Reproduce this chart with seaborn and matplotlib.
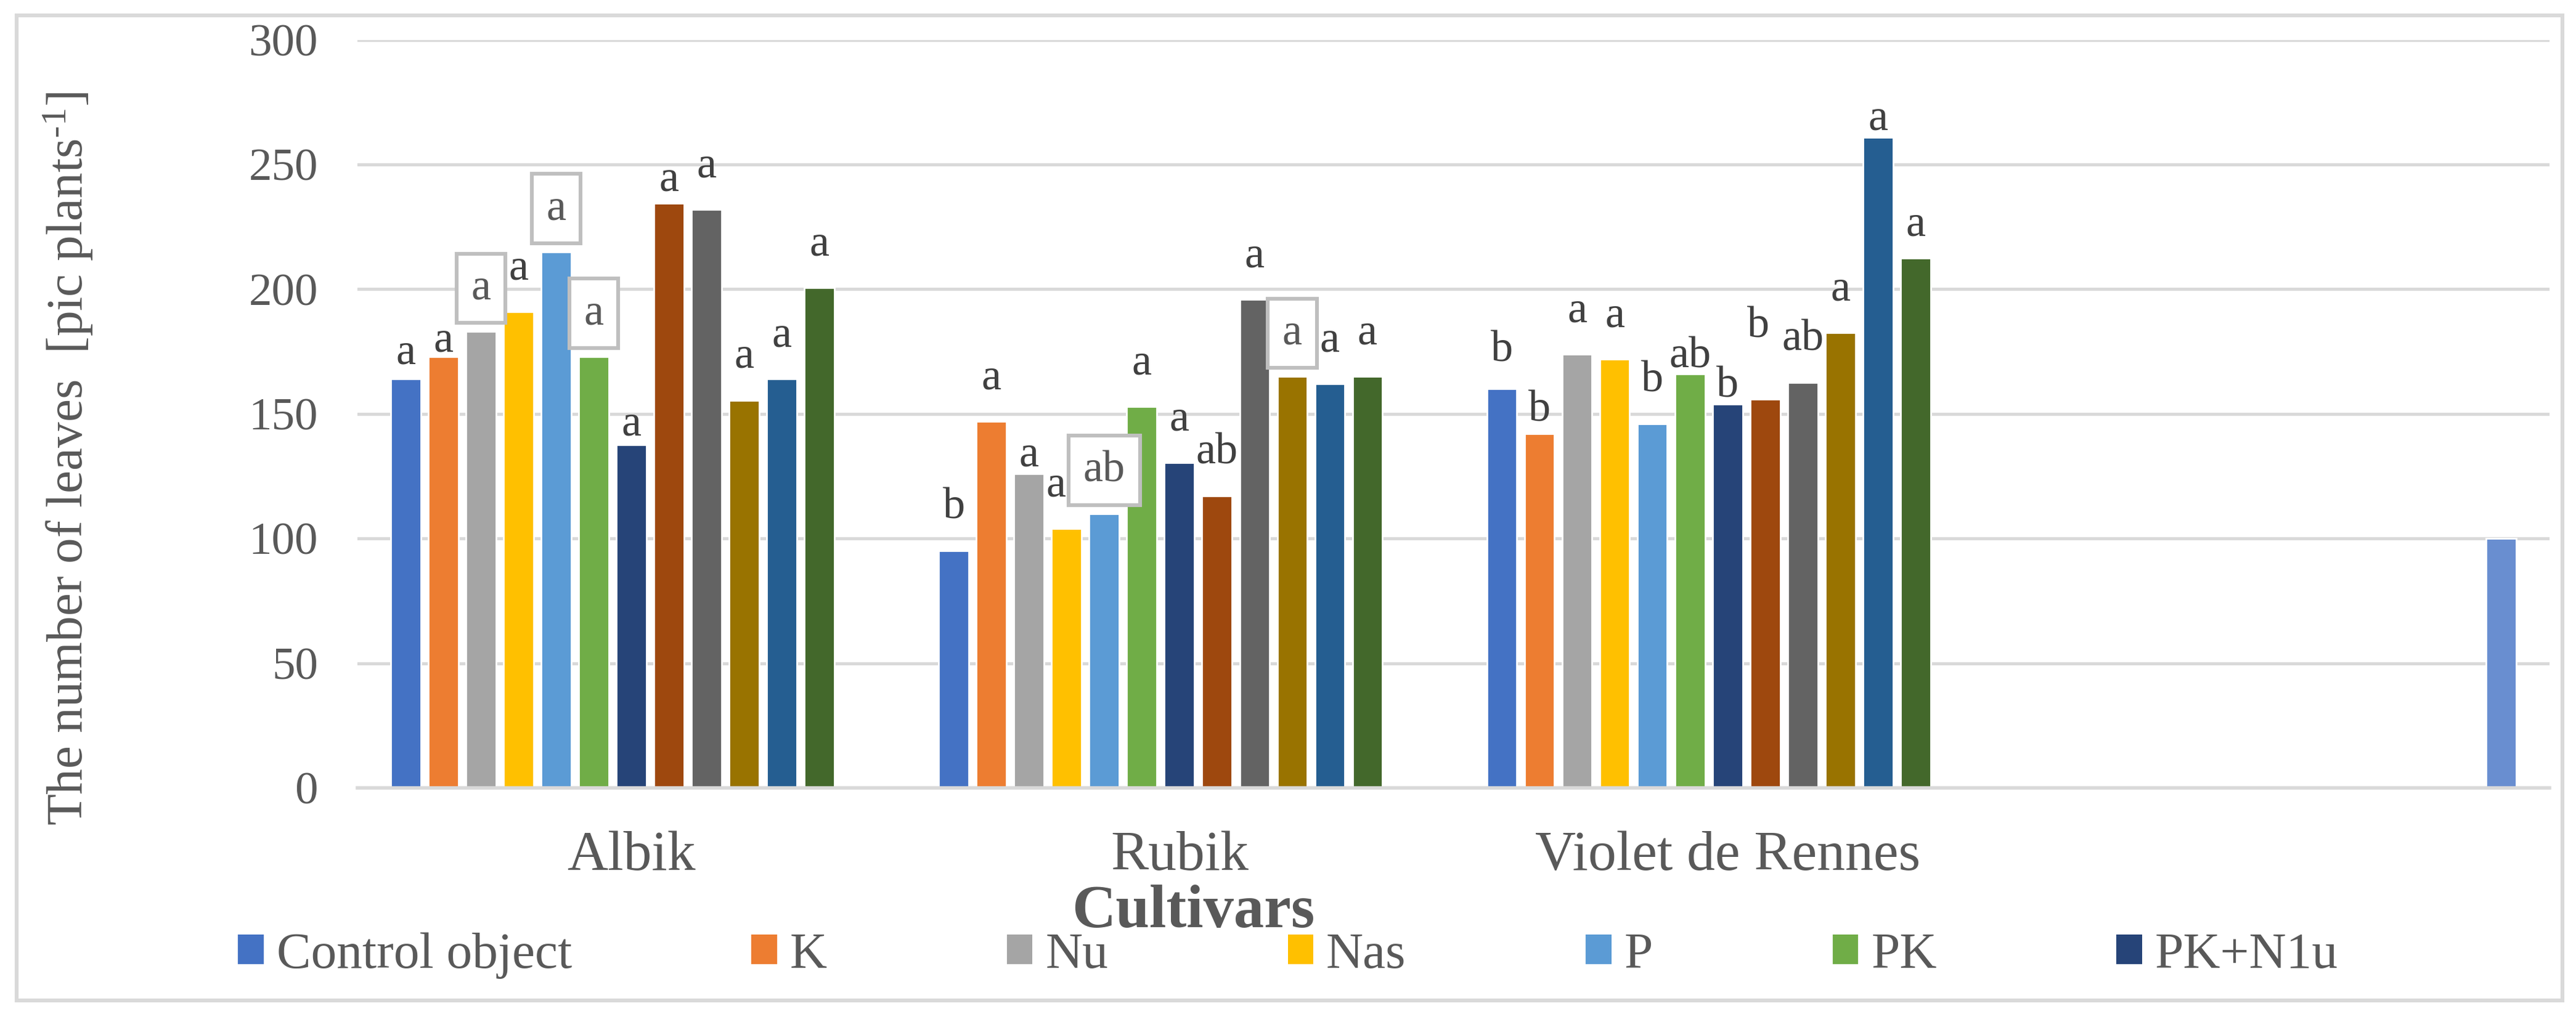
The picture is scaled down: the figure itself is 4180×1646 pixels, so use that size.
import matplotlib
matplotlib.use("Agg")
import matplotlib.pyplot as plt
from matplotlib.colors import to_hex
from matplotlib.patches import Patch, Rectangle
import seaborn as sns
import pandas as pd

# categories and series
cultivars = ["Albik", "Rubik", "Violet de Rennes", " "]
treatments = ["Control object", "K", "Nu", "Nas", "P", "PK", "PK+N1u",
              "series 8", "series 9", "series 10", "series 11", "series 12", "series 13"]

# number of leaves per treatment (first 12 series) for each cultivar
albik = [164, 173, 183, 191, 215, 173, 137.5, 234.5, 232, 155.5, 164, 200.5]
rubik = [95, 147, 126, 104, 110, 153, 130.5, 117, 196, 165, 162, 165]
violet = [160, 142, 174, 172, 146, 166, 154, 156, 162.5, 182.5, 261, 212.5]
extra = [100]  # 13th series, only in the unnamed 4th group

# significance letters
albik_letters = ["a", "a", "a", "a", "a", "a", "a", "a", "a", "a", "a", "a"]
rubik_letters = ["b", "a", "a", "a", "ab", "a", "a", "ab", "a", "a", "a", "a"]
violet_letters = ["b", "b", "a", "a", "b", "ab", "b", "b", "ab", "a", "a", "a"]
boxed = {(0, 2), (0, 4), (0, 5), (1, 4), (1, 9)}

colors = ["#4472C4", "#ED7D31", "#A5A5A5", "#FFC000", "#5B9BD5", "#70AD47", "#264478",
          "#9E480E", "#636363", "#997300", "#255E91", "#43682B", "#698ED0"]

# label placement tweaks (lift above bar in data units, sideways nudge)
lift = {0: [6, 2, 13, 13, 13, 13, 4, 5, 13, 13, 13, 13],
        1: [13, 13, 3, 13, 13, 13, 13, 13, 13, 13, 13, 13],
        2: [11, 5, 13, 13, 13, 2.5, 2.7, 24.6, 13, 13, 3, 9]}
nudge = {(1, 3): -0.02, (2, 7): -0.012}

rows = []
for cult, vals in zip(cultivars[:3], [albik, rubik, violet]):
    for t, v in zip(treatments[:12], vals):
        rows.append({"cultivar": cult, "treatment": t, "leaves": v})
rows.append({"cultivar": cultivars[3], "treatment": treatments[12], "leaves": extra[0]})
df = pd.DataFrame(rows)

sns.set_style("white")
plt.rcParams["font.family"] = ["Liberation Serif", "DejaVu Serif"]
plt.rcParams["mathtext.fontset"] = "custom"
plt.rcParams["mathtext.rm"] = "Liberation Serif"
plt.rcParams["mathtext.it"] = "Liberation Serif:italic"
plt.rcParams["mathtext.bf"] = "Liberation Serif:bold"

W, H = 4180, 1646
fig = plt.figure(figsize=(W / 200, H / 200), dpi=200)
ax = fig.add_axes([580 / W, 1 - 1279 / H, (4137 - 580) / W, (1279 - 64.7) / H])

sns.barplot(data=df, x="cultivar", y="leaves", hue="treatment", order=cultivars,
            hue_order=treatments, palette=colors, saturation=1, width=0.892, gap=0.2,
            errorbar=None, legend=False, ax=ax)

ax.set_xlim(-0.5, 3.5)
ax.set_ylim(0, 300)
ax.set_yticks(range(0, 301, 50))
ax.yaxis.grid(True, color="#D9D9D9", lw=1.8)
ax.set_axisbelow(True)
for s in ["left", "right", "top"]:
    ax.spines[s].set_visible(False)
ax.spines["bottom"].set_color("#D9D9D9")
ax.spines["bottom"].set_linewidth(2)
ax.tick_params(axis="y", length=0, labelsize=27, labelcolor="#595959", pad=23)
ax.tick_params(axis="x", length=0, labelsize=33, labelcolor="#595959", pad=25)

ax.set_ylabel("The number of leaves  [pic plants$^{\\text{-1}}$]", fontsize=30,
              color="#595959", va="center", ha="center")
ax.yaxis.set_label_coords(-0.1321, 0.4398)
ax.set_xlabel("Cultivars", fontsize=35.5, fontweight="bold", color="#595959", va="baseline")
ax.xaxis.set_label_coords(0.3812, -(1505 - 1279) / (1279 - 64.7))

# letters above bars
color_index = {c.lower(): i for i, c in enumerate(colors)}
letters = {0: albik_letters, 1: rubik_letters, 2: violet_letters}
for p in ax.patches:
    hi = color_index.get(to_hex(p.get_facecolor()).lower())
    xc = p.get_x() + p.get_width() / 2
    ci = int(round(xc))
    if hi is None or ci > 2 or hi > 11:
        continue
    txt = letters[ci][hi]
    y = p.get_height() + lift[ci][hi]
    x = xc + nudge.get((ci, hi), 0)
    if (ci, hi) in boxed:
        ax.text(x, y, txt, ha="center", va="baseline", fontsize=26, color="#595959",
                bbox=dict(boxstyle="square,pad=0.33", fc="white", ec="#BFBFBF", lw=2.2))
    else:
        ax.text(x, y, txt, ha="center", va="baseline", fontsize=26, color="#404040")

handles = [Patch(facecolor=c, edgecolor="none") for c in colors[:7]]
fig.legend(handles, treatments[:7], loc="center", bbox_to_anchor=(0.5, (H - 1551) / H),
           ncol=7, frameon=False, fontsize=30, handlelength=0.5, handleheight=0.5,
           handletextpad=0.25, columnspacing=3.5, labelcolor="#595959")

fig.add_artist(Rectangle((27 / W, 1 - 1624 / H), (4158 - 27) / W, (1624 - 25) / H,
                         transform=fig.transFigure, fill=False, ec="#D9D9D9", lw=2.2))

fig.savefig("out.png", dpi=200)
